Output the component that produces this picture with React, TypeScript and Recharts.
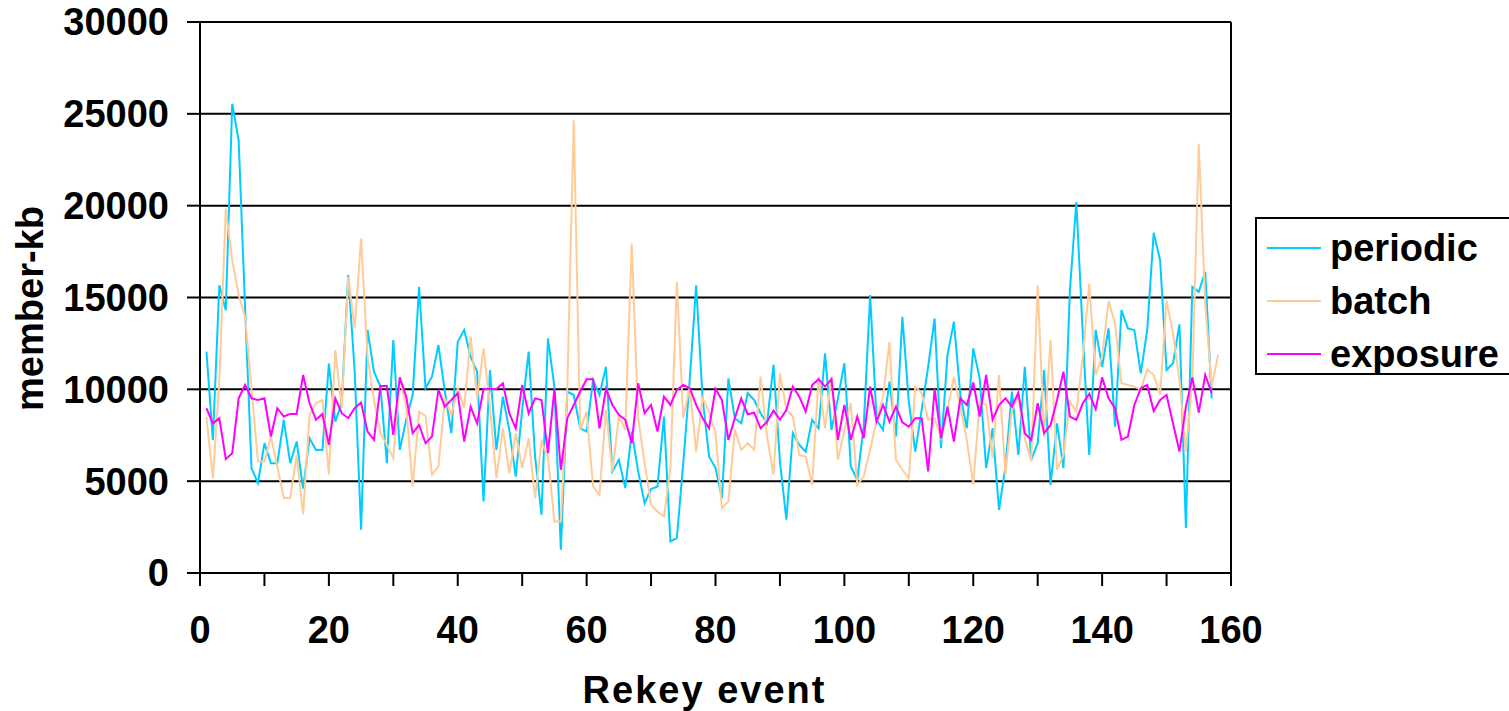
import { LineChart, Line, XAxis, YAxis, CartesianGrid, ReferenceLine, Label } from 'recharts'

const periodic = [
  12050, 7250, 15670, 14300, 25550, 23550, 14400, 5700, 4900, 7070,
  5980, 5980, 8340, 5980, 7160, 4600, 7340, 6700, 6700, 11400,
  8240, 9300, 16220, 11000, 2360, 13230, 10960, 10150, 5980, 12680,
  6700, 8340, 9690, 15580, 10060, 10690, 12410, 9880, 7610, 12590,
  13230, 11780, 10960, 3900, 11050, 6700, 9600, 7790, 5250, 8880,
  12050, 6340, 3170, 12770, 10150, 1270, 9880, 9690, 7880, 7700,
  10510, 9690, 11230, 5530, 6160, 4620, 7700, 5530, 3800, 4570,
  4710, 8520, 1720, 1900, 6000, 10500, 15670, 9500, 6340, 5710,
  4080, 10600, 8430, 8150, 9790, 9420, 8700, 8150, 11330, 6070,
  2900, 7610, 6980, 6610, 8340, 7880, 11960, 7790, 9510, 11420,
  5800, 5070, 8000, 15130, 8340, 7790, 10420, 7430, 13950, 9330,
  6610, 8880, 11230, 13860, 6800, 11870, 13680, 9690, 7880, 12230,
  10600, 5710, 7880, 3440, 5800, 9880, 6430, 11230, 6160, 7070,
  11050, 4800, 8150, 5710, 15400, 20200, 13000, 6430, 13230, 11230,
  13320, 7970, 14310, 13320, 13230, 10870, 13230, 18520, 17030, 11050,
  11420, 13540, 2450, 15580, 15310, 16400, 9510,
]

const batch = [
  8500, 5160, 10500, 19840, 17030, 15130, 13950, 10000, 6070, 6070,
  7430, 5800, 4080, 4080, 6430, 3200, 8600, 9240, 9420, 5350,
  12130, 8970, 16130, 13320, 18210, 11780, 9420, 7610, 6980, 6250,
  10600, 9060, 4710, 8790, 8550, 5350, 5800, 9510, 8600, 10060,
  9000, 12870, 9510, 12230, 9060, 5160, 7880, 5440, 7610, 5710,
  7340, 4080, 7160, 6340, 2810, 2810, 10000, 24640, 7790, 8790,
  4710, 4260, 8880, 5530, 8520, 7790, 17940, 8430, 5980, 3710,
  3350, 3080, 5710, 15850, 8430, 10150, 6610, 9510, 8790, 7610,
  3530, 3900, 7790, 6700, 7070, 6700, 10690, 7430, 5350, 10870,
  8880, 8520, 6430, 6340, 4800, 10690, 7880, 10690, 6160, 7790,
  9240, 4800, 5250, 6700, 8340, 9600, 12590, 6160, 5620, 5160,
  10150, 9790, 8340, 8430, 7340, 8880, 10690, 9060, 7250, 4800,
  9330, 9150, 6250, 10780, 5350, 8880, 9600, 7340, 6070, 15670,
  7430, 12680, 5620, 6430, 9330, 8790, 11780, 15760, 10780, 11780,
  14820, 13590, 10330, 10240, 10150, 9970, 11090, 10780, 9690, 14820,
  13050, 10510, 6610, 10500, 23370, 14680, 10150, 11870,
]

const exposure = [
  8970, 8150, 8430, 6200, 6520, 9510, 10240, 9510, 9420, 9510,
  7430, 8970, 8520, 8660, 8660, 10780, 9240, 8340, 8660, 6980,
  9510, 8700, 8430, 8970, 9280, 7700, 7250, 10180, 10180, 7520,
  10650, 9600, 7610, 8060, 7070, 7430, 9970, 9060, 9420, 9790,
  7160, 9060, 8150, 10020, 10020, 10020, 10330, 8700, 7880, 10240,
  8700, 9510, 9420, 6520, 10020, 5620, 8430, 9150, 9880, 10550,
  10550, 7880, 10020, 9150, 8610, 8340, 7070, 10330, 8700, 9150,
  7700, 9600, 9150, 9970, 10240, 10060, 9150, 8430, 7880, 10020,
  9420, 7250, 8430, 9510, 8640, 8730, 7880, 8240, 8840, 8340,
  8880, 10150, 9600, 8790, 10240, 10550, 10150, 10550, 7250, 9150,
  7250, 8520, 7340, 10150, 8240, 9150, 8240, 9060, 8200, 7970,
  8430, 8430, 5530, 10020, 7340, 9060, 7160, 9510, 9150, 10370,
  8520, 10780, 8340, 9150, 9510, 9060, 9820, 7610, 7250, 9240,
  7610, 8060, 9420, 10960, 8520, 8340, 9240, 9750, 8920, 10650,
  9510, 8970, 7250, 7430, 9150, 10060, 10240, 8820, 9420, 9690,
  8150, 6610, 9060, 10650, 8730, 10780, 9790,
]

const xTicks = [0, 10, 20, 30, 40, 50, 60, 70, 80, 90, 100, 110, 120, 130, 140, 150, 160]
const yTicks = [0, 5000, 10000, 15000, 20000, 25000, 30000]

const series = [
  { key: 'periodic', color: '#00CCFF' },
  { key: 'batch', color: '#FFCC99' },
  { key: 'exposure', color: '#FF00FF' },
]

const font = "'Liberation Sans', Arial, sans-serif"

export default function App() {
  const rows = batch.map((b, i) => ({
    x: i + 1,
    periodic: periodic[i],
    batch: b,
    exposure: exposure[i],
  }))

  const tickStyle = { fontSize: 38, fontWeight: 'bold', fill: '#000', fontFamily: font }
  const titleStyle = { fontSize: 38, fontWeight: 'bold', fill: '#000', fontFamily: font, letterSpacing: 2 }

  return (
    <div style={{ position: 'absolute', left: 0, top: 0, width: 1509, height: 711, overflow: 'hidden', background: '#fff' }}>
      <LineChart width={1509} height={711} data={rows} margin={{ top: 22, right: 278, bottom: 0, left: 0 }}>
        <CartesianGrid vertical={false} stroke="#000" strokeWidth={2} />
        <XAxis
          type="number"
          dataKey="x"
          domain={[0, 160]}
          ticks={xTicks}
          tickFormatter={v => (v % 20 === 0 ? String(v) : '')}
          height={138}
          tickSize={13}
          tickMargin={30}
          axisLine={{ stroke: '#000', strokeWidth: 2 }}
          tickLine={{ stroke: '#000', strokeWidth: 2 }}
          tick={tickStyle}
          interval={0}
        >
          <Label value="Rekey event" position="insideBottom" offset={8} dx={-11} style={titleStyle} />
        </XAxis>
        <YAxis
          type="number"
          domain={[0, 30000]}
          ticks={yTicks}
          width={200}
          tickSize={13}
          tickMargin={18}
          axisLine={{ stroke: '#000', strokeWidth: 2 }}
          tickLine={{ stroke: '#000', strokeWidth: 2 }}
          tick={tickStyle}
          interval={0}
        >
          <Label value="member-kb" angle={-90} position="insideLeft" offset={30} dy={11}
            style={{ ...titleStyle, letterSpacing: 0, textAnchor: 'middle' }} />
        </YAxis>
        <ReferenceLine x={160} stroke="#000" strokeWidth={2} />
        {series.map(s => (
          <Line
            key={s.key}
            type="linear"
            dataKey={s.key}
            stroke={s.color}
            strokeWidth={2}
            dot={false}
            activeDot={false}
            isAnimationActive={false}
          />
        ))}
      </LineChart>

      <div style={{
        position: 'absolute', left: 1255, top: 217, width: 300, height: 154,
        border: '2px solid #000', background: '#fff', fontFamily: font,
      }}>
        {series.map((s, i) => (
          <div key={s.key} style={{ position: 'absolute', left: 10, top: 9 + i * 53, height: 40, display: 'flex', alignItems: 'center' }}>
            <svg width={54} height={4} style={{ display: 'block' }}>
              <line x1={0} y1={2} x2={54} y2={2} stroke={s.color} strokeWidth={2} />
            </svg>
            <span style={{ marginLeft: 9, fontSize: 38, fontWeight: 'bold', color: '#000', lineHeight: '40px' }}>{s.key}</span>
          </div>
        ))}
      </div>
    </div>
  )
}
